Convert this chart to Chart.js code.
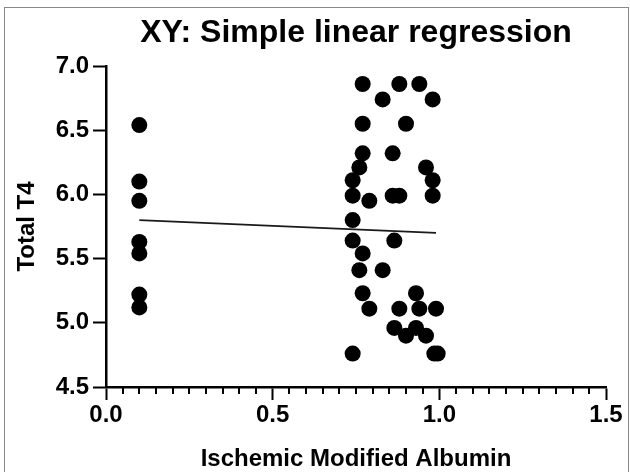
<!DOCTYPE html>
<html>
<head>
<meta charset="utf-8">
<script src="https://cdn.jsdelivr.net/npm/chart.js@4/dist/chart.umd.min.js"></script>
<style>
  body { margin: 0; background: #fff; }
  #wrap { position: relative; width: 630px; height: 472px; }
  #frame { position: absolute; left: 4px; top: 7px; width: 623px; height: 470px; border: 1px solid #888; pointer-events: none; }
</style>
</head>
<body>
<div id="wrap">
  <canvas id="chart" width="630" height="472"></canvas>
  <div id="frame"></div>
</div>
<script>
// measured points, Ischemic Modified Albumin vs Total T4
const imaValues = [
  0.10, 0.10, 0.10, 0.10, 0.10, 0.10, 0.10,
  0.77, 0.88, 0.94,
  0.83, 0.98,
  0.77, 0.90,
  0.77, 0.86,
  0.76, 0.96,
  0.74, 0.98,
  0.74, 0.86, 0.88, 0.98,
  0.79,
  0.74,
  0.74, 0.865,
  0.77,
  0.76, 0.83,
  0.77, 0.93,
  0.79, 0.88, 0.94, 0.99,
  0.865, 0.93,
  0.90, 0.96,
  0.74, 0.985, 0.995
];
const t4Values = [
  6.54, 6.10, 5.95, 5.63, 5.54, 5.22, 5.12,
  6.86, 6.86, 6.86,
  6.74, 6.74,
  6.55, 6.55,
  6.32, 6.32,
  6.21, 6.21,
  6.11, 6.11,
  5.99, 5.99, 5.99, 5.99,
  5.95,
  5.80,
  5.64, 5.64,
  5.54,
  5.41, 5.41,
  5.23, 5.23,
  5.11, 5.11, 5.11, 5.11,
  4.96, 4.96,
  4.90, 4.90,
  4.76, 4.76, 4.76
];
// fitted line end points
const fitX = [0.10, 0.99];
const fitY = [5.80, 5.70];

const xTicks = [0, 0.5, 1.0, 1.5];
const yTicks = [4.5, 5.0, 5.5, 6.0, 6.5, 7.0];

const FONT = "'Liberation Sans', Arial, sans-serif";

const minorTicks = {
  id: 'minorTicks',
  afterDraw(chart) {
    const ctx = chart.ctx;
    const x = chart.scales.x;
    const bottom = chart.chartArea.bottom;
    ctx.save();
    ctx.strokeStyle = '#000';
    ctx.lineWidth = 2;
    for (let i = 1; i < 30; i++) {
      if (i % 10 === 0) continue;
      const px = Math.round(x.getPixelForValue(i * 0.05));
      ctx.beginPath();
      ctx.moveTo(px, bottom);
      ctx.lineTo(px, bottom + 7);
      ctx.stroke();
    }
    ctx.restore();
  }
};

new Chart(document.getElementById('chart'), {
  type: 'scatter',
  data: {
    datasets: [{
      data: fitX.map((v, i) => ({ x: v, y: fitY[i] })),
      showLine: true,
      borderColor: '#1a1a1a',
      borderWidth: 1.6,
      pointRadius: 0,
      order: 2
    }, {
      data: imaValues.map((v, i) => ({ x: v, y: t4Values[i] })),
      backgroundColor: '#000',
      borderColor: '#000',
      borderWidth: 0,
      pointRadius: 8,
      order: 1
    }]
  },
  options: {
    responsive: false,
    animation: false,
    events: [],
    layout: { padding: { left: 10, right: 24, top: 0, bottom: 0 } },
    plugins: {
      legend: { display: false },
      tooltip: { enabled: false },
      title: {
        display: true,
        text: 'XY: Simple linear regression',
        color: '#000',
        fullSize: false,
        font: { family: FONT, size: 32, weight: 'bold', lineHeight: 1.2 },
        padding: { top: 14, bottom: 13.6 }
      }
    },
    scales: {
      x: {
        type: 'linear',
        min: 0,
        max: 1.5,
        afterFit: s => { s.height = 85; },
        afterBuildTicks: s => { s.ticks = xTicks.map(v => ({ value: v })); },
        border: { color: '#000', width: 2.5 },
        grid: { drawOnChartArea: false, drawTicks: true, tickLength: 13, tickWidth: 2, tickColor: '#000' },
        ticks: {
          color: '#000',
          padding: 1,
          font: { family: FONT, size: 24, weight: 'bold' },
          callback: v => v.toFixed(1)
        },
        title: {
          display: true,
          text: 'Ischemic Modified Albumin',
          color: '#000',
          font: { family: FONT, size: 24, weight: 'bold', lineHeight: 1.0 },
          padding: { top: 0, bottom: 1 }
        }
      },
      y: {
        type: 'linear',
        min: 4.5,
        max: 7.0,
        afterFit: s => { s.width = 96; },
        afterBuildTicks: s => { s.ticks = yTicks.map(v => ({ value: v })); },
        border: { color: '#000', width: 2.5 },
        grid: { drawOnChartArea: false, drawTicks: true, tickLength: 13, tickWidth: 2, tickColor: '#000' },
        ticks: {
          color: '#000',
          padding: 4,
          font: { family: FONT, size: 24, weight: 'bold' },
          callback: v => v.toFixed(1)
        },
        title: {
          display: true,
          text: 'Total T4',
          color: '#000',
          font: { family: FONT, size: 24, weight: 'bold', lineHeight: 1.0 },
          padding: { top: 5, bottom: 0 }
        }
      }
    }
  },
  plugins: [minorTicks]
});
</script>
</body>
</html>
